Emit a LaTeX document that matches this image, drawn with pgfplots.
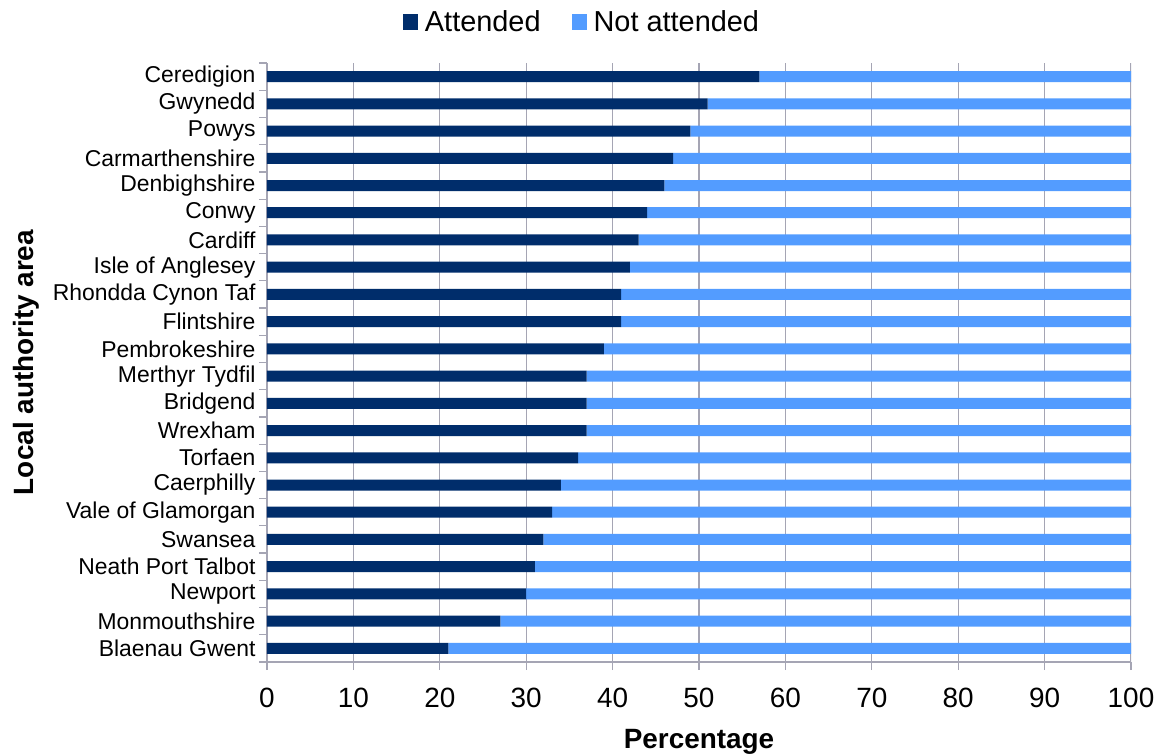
\documentclass[border=0pt]{standalone}
\usepackage{fontspec}
\setmainfont{Liberation Sans}
\usepackage{pgfplots}
\pgfplotsset{compat=1.18}
\usetikzlibrary{calc}
\definecolor{att}{RGB}{0,45,107}
\definecolor{natt}{RGB}{83,156,255}
\definecolor{gridc}{RGB}{165,165,180}
\newcommand\yl[1]{#1\hspace*{8bp}}
\begin{document}
\begin{tikzpicture}
% background axis: grid lines only
\begin{axis}[name=gridax, at={(0,0)}, anchor=south west, scale only axis, width=864bp, height=599bp,
 xmin=0, xmax=100, ymin=-0.5, ymax=21.5, hide axis]
\draw[gridc, line width=1.2bp] (axis cs:10,-0.5) -- (axis cs:10,21.5);
\draw[gridc, line width=1.2bp] (axis cs:20,-0.5) -- (axis cs:20,21.5);
\draw[gridc, line width=1.2bp] (axis cs:30,-0.5) -- (axis cs:30,21.5);
\draw[gridc, line width=1.2bp] (axis cs:40,-0.5) -- (axis cs:40,21.5);
\draw[gridc, line width=1.2bp] (axis cs:50,-0.5) -- (axis cs:50,21.5);
\draw[gridc, line width=1.2bp] (axis cs:60,-0.5) -- (axis cs:60,21.5);
\draw[gridc, line width=1.2bp] (axis cs:70,-0.5) -- (axis cs:70,21.5);
\draw[gridc, line width=1.2bp] (axis cs:80,-0.5) -- (axis cs:80,21.5);
\draw[gridc, line width=1.2bp] (axis cs:90,-0.5) -- (axis cs:90,21.5);
\draw[gridc, line width=1.2bp] (axis cs:100,-0.5) -- (axis cs:100,21.5);
\end{axis}
\begin{axis}[name=ax, at={(gridax.south west)}, anchor=south west, scale only axis, width=864bp, height=599bp,
 xbar stacked, bar width=11bp,
 xmin=0, xmax=100, ymin=-0.5, ymax=21.5,
 xtick={0,10,...,100},
 ytick={-0.5,0.5,...,21.5}, yticklabels={},
 extra y ticks={0,...,21},
 extra y tick labels={\yl{Blaenau Gwent}, \yl{Monmouthshire}, \yl{Newport}, \yl{Neath Port Talbot}, \yl{Swansea}, \yl{Vale of Glamorgan}, \yl{Caerphilly}, \yl{Torfaen}, \yl{Wrexham}, \yl{Bridgend}, \yl{Merthyr Tydfil}, \yl{Pembrokeshire}, \yl{Flintshire}, \yl{Rhondda Cynon Taf}, \yl{Isle of Anglesey}, \yl{Cardiff}, \yl{Conwy}, \yl{Denbighshire}, \yl{Carmarthenshire}, \yl{Powys}, \yl{Gwynedd}, \yl{Ceredigion}},
 extra y tick style={major tick length=0pt},
 major tick length=8bp,
 tick align=outside,
 axis x line*=bottom, axis y line*=left,
 axis line style={-, gridc, line width=1.2bp},
 tick style={gridc, line width=1.2bp},
 /pgf/number format/assume math mode=true,
 xticklabel style={font=\fontsize{28}{32}\selectfont, text=black, yshift=-14bp},
 yticklabel style={font=\fontsize{23}{27}\selectfont, text=black},
 xlabel={Percentage}, ylabel={Local authority area},
 xlabel style={font=\fontsize{28}{32}\selectfont\bfseries, at={(axis description cs:0.5,0)}, anchor=base, yshift=-86bp},
 ylabel style={font=\fontsize{28}{32}\selectfont\bfseries, at={(axis description cs:-0.279,0.5)}, anchor=center},
 legend columns=2,
 legend style={draw=none, fill=none, at={(axis description cs:0.3646,1.068)}, anchor=center, font=\fontsize{29}{33}\selectfont,
   /tikz/every even column/.append style={column sep=29bp},
   /tikz/every odd column/.append style={column sep=5bp}},
 legend image code/.code={\fill[#1] (0bp,-8bp) rectangle (15bp,8bp);},
]
\addplot[att, fill=att, draw=none] coordinates {
(21,0) (27,1) (30,2) (31,3) (32,4) (33,5) (34,6) (36,7) (37,8) (37,9) (37,10)
(39,11) (41,12) (41,13) (42,14) (43,15) (44,16) (46,17) (47,18) (49,19) (51,20) (57,21)};
\addplot[natt, fill=natt, draw=none] coordinates {
(79,0) (73,1) (70,2) (69,3) (68,4) (67,5) (66,6) (64,7) (63,8) (63,9) (63,10)
(61,11) (59,12) (59,13) (58,14) (57,15) (56,16) (54,17) (53,18) (51,19) (49,20) (43,21)};
\legend{Attended, Not attended}
\end{axis}
\pgfresetboundingbox
\path[use as bounding box] ($(ax.south west)+(-267bp,-92bp)$) rectangle ($(ax.north east)+(33bp,63bp)$);
\end{tikzpicture}
\end{document}
